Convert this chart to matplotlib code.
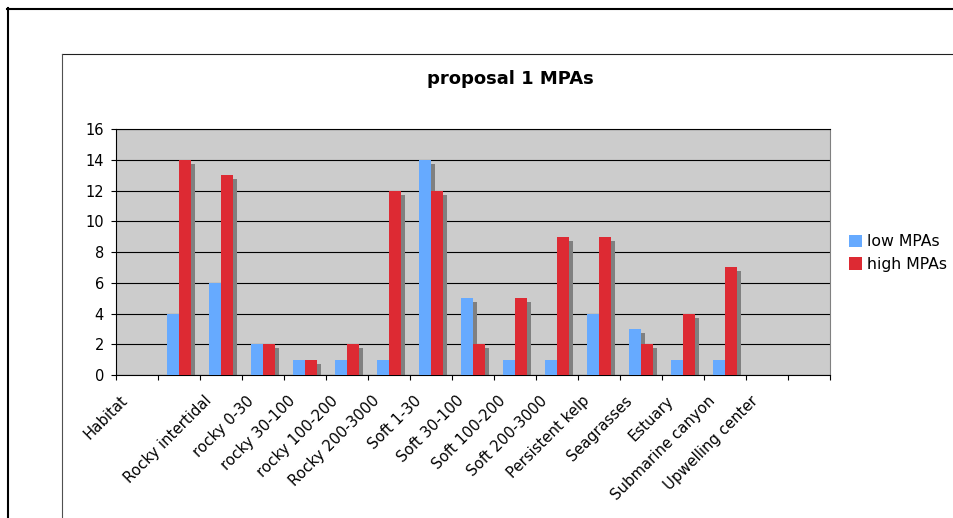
import numpy as np
import matplotlib
matplotlib.use("Agg")
import matplotlib.pyplot as plt
from matplotlib.lines import Line2D
from matplotlib.patches import Patch
from matplotlib.transforms import ScaledTranslation, Affine2D

plt.rcParams["font.family"] = ["DejaVu Sans"]

categories = ["Habitat", "", "Rocky intertidal", "rocky 0-30", "rocky 30-100",
              "rocky 100-200", "Rocky 200-3000", "Soft 1-30", "Soft 30-100",
              "Soft 100-200", "Soft 200-3000", "Persistent kelp", "Seagrasses",
              "Estuary", "Submarine canyon", "Upwelling center", ""]
low_mpas = [0, 4, 6, 2, 1, 1, 1, 14, 5, 1, 1, 4, 3, 1, 1, 0, 0]
high_mpas = [0, 14, 13, 2, 1, 2, 12, 12, 2, 5, 9, 9, 2, 4, 7, 0, 0]
series_names = ["low MPAs", "high MPAs"]
title = "proposal 1 MPAs"

W, H = 954, 518
fig = plt.figure(figsize=(W / 100, H / 100), dpi=100)
fig.patch.set_facecolor("white")

# pixel -> figure transform (y from top)
px = Affine2D().scale(1 / W, -1 / H).translate(0, 1) + fig.transFigure

# outer frames
fig.add_artist(Line2D([7, W], [8.5, 8.5], transform=px, color="black", lw=1.5))
fig.add_artist(Line2D([8, 8], [8, H], transform=px, color="black", lw=1.5))
fig.add_artist(Line2D([62, W], [54, 54], transform=px, color="#202020", lw=0.8))
fig.add_artist(Line2D([62, 62], [54, H], transform=px, color="#505050", lw=0.8))

# axes
x0, x1, ytop, ybot = 116, 830, 129, 375
ax = fig.add_axes([x0 / W, 1 - ybot / H, (x1 - x0) / W, (ybot - ytop) / H])
ax.set_facecolor("#CCCCCC")

x = np.arange(len(categories))
w = 1 / 3.5
blue = "#66AAFF"
red = "#DD2A33"
shadow = "#808080"

shadow_tf = ax.transData + ScaledTranslation(4 / 100, -4 / 100, fig.dpi_scale_trans)
ax.bar(x - w / 2, low_mpas, width=w, color=shadow, transform=shadow_tf, zorder=2.5, linewidth=0)
ax.bar(x + w / 2, high_mpas, width=w, color=shadow, transform=shadow_tf, zorder=2.5, linewidth=0)
ax.bar(x - w / 2, low_mpas, width=w, color=blue, zorder=3, linewidth=0, label=series_names[0])
ax.bar(x + w / 2, high_mpas, width=w, color=red, zorder=3, linewidth=0, label=series_names[1])

ax.set_xlim(-0.5, len(categories) - 0.5)
ax.set_ylim(0, 16)
ax.set_yticks(np.arange(0, 17, 2))
ax.yaxis.grid(True, color="black", lw=0.8)
ax.set_axisbelow(True)
ax.tick_params(axis="y", direction="out", length=3.6, width=0.8, pad=5,
               labelsize=10.5, colors="black")

ax.set_xticks(np.arange(-0.5, len(categories), 1))
ax.set_xticklabels([])
ax.set_xticks(x, minor=True)
ax.set_xticklabels(categories, minor=True, rotation=45, ha="right", va="top",
                   rotation_mode="anchor", fontsize=10.75)
ax.tick_params(axis="x", which="major", direction="out", length=3.6, width=0.8)
ax.tick_params(axis="x", which="minor", length=0, pad=13)
off = ScaledTranslation(-17 / 100, 0, fig.dpi_scale_trans)
for lbl in ax.get_xticklabels(minor=True):
    lbl.set_transform(lbl.get_transform() + off)

for s in ["left", "bottom", "top"]:
    ax.spines[s].set_color("black")
    ax.spines[s].set_linewidth(0.8)
ax.spines["right"].set_color("#808080")
ax.spines["right"].set_linewidth(0.8)

fig.text(510 / W, 1 - 79 / H, title, ha="center", va="center",
         fontsize=13, fontweight="bold")

handles = [Patch(facecolor=blue), Patch(facecolor=red)]
fig.legend(handles, series_names, loc="center left",
           bbox_to_anchor=(849 / W, 1 - 253 / H), frameon=False, fontsize=11.3,
           handlelength=0.82, handleheight=0.82, handletextpad=0.3,
           labelspacing=0.5, borderpad=0, borderaxespad=0)

fig.savefig("out.png", dpi=100, facecolor="white")
